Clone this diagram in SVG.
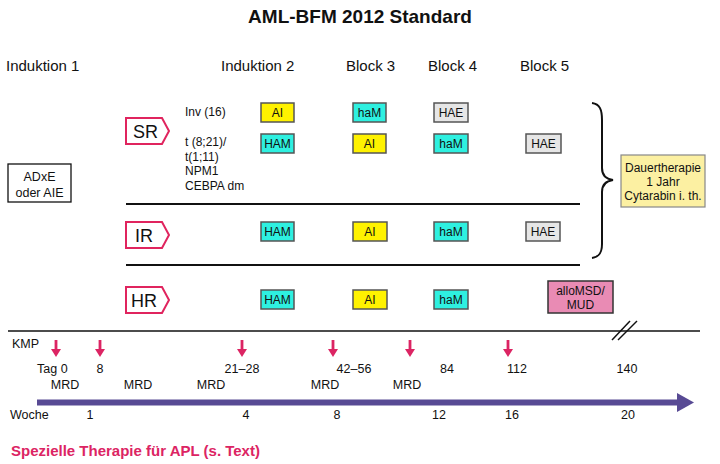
<svg xmlns="http://www.w3.org/2000/svg" width="720" height="464" viewBox="0 0 720 464">
<style>
text{font-family:"Liberation Sans",Arial,sans-serif;fill:#111}
.title{font-size:19px;font-weight:bold}
.hdr{font-size:15px}
.sm{font-size:12.5px}
.cr{font-size:12px}
.bx{font-size:12px;text-anchor:middle}
.mid{text-anchor:middle}
.risk{fill:#fff;stroke:#e0245e;stroke-width:2}
.rl{font-size:18px}
.cy{fill:#2ef0e0;stroke:#555;stroke-width:1.5}
.ye{fill:#fff200;stroke:#555;stroke-width:1.5}
.gr{fill:#e6e6e6;stroke:#555;stroke-width:1.5}
.sep{stroke:#111;stroke-width:2;fill:none}
.kmp{fill:#dc2463}
.apl{font-size:15px;font-weight:bold;fill:#dc2463}
</style>
<defs>
<g id="arr"><rect x="-1.4" y="0" width="2.8" height="10" class="kmp"/><polygon points="-5,9 5,9 0,17" class="kmp"/></g>
</defs>
<text class="title mid" x="360" y="23">AML-BFM 2012 Standard</text>
<g id="headers">
<text class="hdr" x="6" y="71">Induktion 1</text>
<text class="hdr" x="221" y="71">Induktion 2</text>
<text class="hdr" x="346" y="71">Block 3</text>
<text class="hdr" x="428" y="71">Block 4</text>
<text class="hdr" x="520" y="71">Block 5</text>
</g>
<g id="induction1">
<rect x="8" y="164" width="63" height="38" fill="#fff" stroke="#111" stroke-width="1.3"/>
<text class="sm mid" x="39.5" y="181">ADxE</text>
<text class="sm mid" x="39.5" y="197">oder AIE</text>
</g>
<g id="SR">
<polygon class="risk" points="126,118 162,118 169,131 162,144 126,144"/>
<text class="rl" x="133" y="138">SR</text>
</g>
<g id="SR-criteria">
<text class="cr" x="185" y="116">Inv (16)</text>
<text class="cr" x="185" y="146">t (8;21)/</text>
<text class="cr" x="185" y="160.5">t(1;11)</text>
<text class="cr" x="185" y="175">NPM1</text>
<text class="cr" x="185" y="189.5">CEBPA dm</text>
</g>
<g id="IR">
<polygon class="risk" points="126,222 162,222 169,235 162,248 126,248"/>
<text class="rl" x="135" y="242">IR</text>
</g>
<g id="HR">
<polygon class="risk" points="126,287 162,287 169,300 162,313 126,313"/>
<text class="rl" x="131" y="307">HR</text>
</g>
<g id="SR-inv16">
<rect class="ye" x="261" y="103" width="33" height="19"/><text class="bx" x="277.5" y="117">AI</text>
<rect class="cy" x="353" y="103" width="33" height="19"/><text class="bx" x="369.5" y="117">haM</text>
<rect class="gr" x="434" y="103" width="34" height="19"/><text class="bx" x="451" y="117">HAE</text>
</g>
<g id="SR-other">
<rect class="cy" x="261" y="134" width="33" height="19"/><text class="bx" x="277.5" y="148">HAM</text>
<rect class="ye" x="353" y="134" width="33" height="19"/><text class="bx" x="369.5" y="148">AI</text>
<rect class="cy" x="434" y="134" width="34" height="19"/><text class="bx" x="451" y="148">haM</text>
<rect class="gr" x="526" y="134" width="35" height="19"/><text class="bx" x="543.5" y="148">HAE</text>
</g>
<g id="IR-therapy">
<rect class="cy" x="261" y="222" width="33" height="19"/><text class="bx" x="277.5" y="236">HAM</text>
<rect class="ye" x="353" y="222" width="34" height="19"/><text class="bx" x="370" y="236">AI</text>
<rect class="cy" x="434" y="222" width="34" height="19"/><text class="bx" x="451" y="236">haM</text>
<rect class="gr" x="526" y="222" width="34" height="19"/><text class="bx" x="543" y="236">HAE</text>
</g>
<g id="HR-therapy">
<rect class="cy" x="261" y="290" width="33" height="19"/><text class="bx" x="277.5" y="304">HAM</text>
<rect class="ye" x="353" y="290" width="34" height="19"/><text class="bx" x="370" y="304">AI</text>
<rect class="cy" x="434" y="290" width="34" height="19"/><text class="bx" x="451" y="304">haM</text>
</g>
<g id="alloSCT">
<rect x="548" y="281" width="65" height="32" fill="#e98bb4" stroke="#333" stroke-width="1.5"/>
<text class="bx" x="580.5" y="295">alloMSD/</text>
<text class="bx" x="580.5" y="309">MUD</text>
</g>
<g id="maintenance">
<rect x="621" y="155" width="84" height="52" fill="#fcf0a2" stroke="#888" stroke-width="1.2"/>
<text class="bx" x="663" y="172">Dauertherapie</text>
<text class="bx" x="663" y="186">1 Jahr</text>
<text class="bx" x="663" y="200">Cytarabin i. th.</text>
</g>
<g id="connectors">
<line class="sep" x1="126" y1="204" x2="580" y2="204"/>
<line class="sep" x1="126" y1="265" x2="580" y2="265"/>
<path class="sep" d="M592,103 C600,104 602,110 602,120 L602,168 C602,176 606,179 613,180 C606,181 602,184 602,192 L602,244 C602,253 599,257 592,258"/>
</g>
<g id="timeline">
<line x1="8" y1="331" x2="700" y2="331" stroke="#111" stroke-width="1.5"/>
<line x1="612" y1="340" x2="630" y2="321" stroke="#111" stroke-width="1.5"/>
<line x1="618" y1="340" x2="637" y2="321" stroke="#111" stroke-width="1.5"/>
<text class="sm" x="12" y="348">KMP</text>
<use href="#arr" x="56" y="340"/>
<use href="#arr" x="100" y="340"/>
<use href="#arr" x="242" y="340"/>
<use href="#arr" x="333" y="340"/>
<use href="#arr" x="410" y="340"/>
<use href="#arr" x="508" y="340"/>
<text class="sm" x="37" y="373">Tag 0</text>
<text class="sm mid" x="100" y="373">8</text>
<text class="sm mid" x="242" y="373">21–28</text>
<text class="sm mid" x="354" y="373">42–56</text>
<text class="sm mid" x="447" y="373">84</text>
<text class="sm mid" x="517" y="373">112</text>
<text class="sm mid" x="627" y="373">140</text>
<text class="sm mid" x="65" y="389">MRD</text>
<text class="sm mid" x="138" y="389">MRD</text>
<text class="sm mid" x="211" y="389">MRD</text>
<text class="sm mid" x="325" y="389">MRD</text>
<text class="sm mid" x="407" y="389">MRD</text>
<line x1="37" y1="402.5" x2="680" y2="402.5" stroke="#584a94" stroke-width="6"/>
<polygon points="677,393 694,402.5 677,412" fill="#584a94"/>
<text class="sm" x="10" y="419">Woche</text>
<text class="sm mid" x="90" y="419">1</text>
<text class="sm mid" x="246" y="419">4</text>
<text class="sm mid" x="337" y="419">8</text>
<text class="sm mid" x="439" y="419">12</text>
<text class="sm mid" x="512" y="419">16</text>
<text class="sm mid" x="628" y="419">20</text>
</g>
<text class="apl" x="11" y="456">Spezielle Therapie für APL (s. Text)</text>
</svg>
